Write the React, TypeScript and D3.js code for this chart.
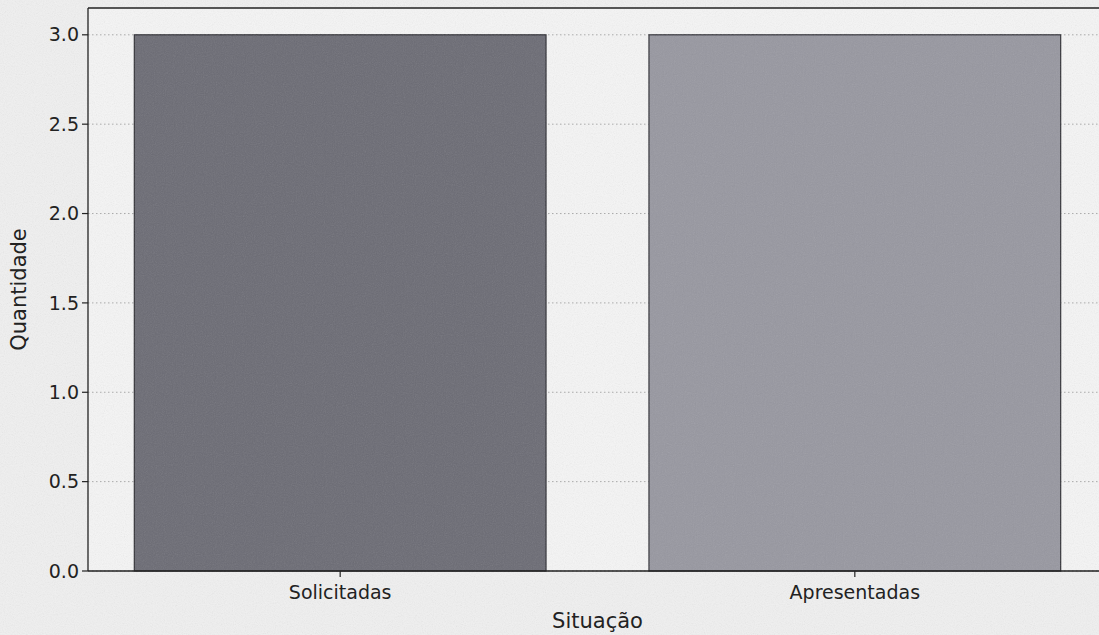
import React, { useEffect } from "react";
import * as d3 from "d3";

const categories = ["Solicitadas", "Apresentadas"];
const values = [3, 3];
const barColors = ["#6b6b74", "#9797a0"];
const yTicks = [0, 0.5, 1, 1.5, 2, 2.5, 3];

const W = 1099;
const H = 635;
const margin = { left: 88, right: -8, top: 8, bottom: 64 };

export default function App() {
  useEffect(() => {
    document.body.style.margin = "0";
  }, []);

  // matplotlib style bar layout: bars at 0,1 with width 0.8 and 5% margins
  const x = d3
    .scaleLinear()
    .domain([-0.49, 1.49])
    .range([margin.left, W - margin.right]);
  const y = d3
    .scaleLinear()
    .domain([0, 3.15])
    .range([H - margin.bottom, margin.top]);

  const font = "'DejaVu Sans', sans-serif";
  const x0 = margin.left;
  const x1 = W - margin.right;
  const y0 = H - margin.bottom;
  const y1 = margin.top;

  return (
    <svg width={W} height={H} style={{ display: "block" }} fontFamily={font}>
      <defs>
        <filter id="paper" x="0" y="0" width="100%" height="100%">
          <feTurbulence type="fractalNoise" baseFrequency="0.9" numOctaves="2" seed="3" />
          <feColorMatrix type="saturate" values="0" />
          <feComponentTransfer>
            <feFuncA type="linear" slope="0.16" />
          </feComponentTransfer>
        </filter>
      </defs>
      <rect width={W} height={H} fill="#f0f0f0" />
      <rect x={x0} y={y1} width={x1 - x0} height={y0 - y1} fill="#f5f5f5" />

      {/* grid */}
      {yTicks.map((t) => (
        <line
          key={"g" + t}
          x1={x0}
          x2={x1}
          y1={y(t)}
          y2={y(t)}
          stroke="#a9a9a9"
          strokeWidth={1}
          strokeDasharray="1.5,2.5"
        />
      ))}

      {/* bars */}
      {categories.map((c, i) => (
        <rect
          key={c}
          x={x(i - 0.4)}
          y={y(values[i])}
          width={x(i + 0.4) - x(i - 0.4)}
          height={y(0) - y(values[i])}
          fill={barColors[i]}
          stroke="#2e2e34"
          strokeWidth={1.2}
        />
      ))}

      {/* texture overlay */}
      <rect width={W} height={H} filter="url(#paper)" />

      {/* spines */}
      <line x1={x0} x2={x0} y1={y1} y2={y0} stroke="#222" strokeWidth={1.3} />
      <line x1={x0} x2={x1} y1={y0} y2={y0} stroke="#222" strokeWidth={1.3} />
      <line x1={x0} x2={x1} y1={y1} y2={y1} stroke="#222" strokeWidth={1.3} />

      {/* y ticks */}
      {yTicks.map((t) => (
        <g key={"t" + t}>
          <line x1={x0 - 6} x2={x0} y1={y(t)} y2={y(t)} stroke="#222" strokeWidth={1.2} />
          <text
            x={x0 - 9}
            y={y(t)}
            dy="0.35em"
            textAnchor="end"
            fontSize={19}
            fill="#222"
          >
            {d3.format(".1f")(t)}
          </text>
        </g>
      ))}

      {/* x ticks */}
      {categories.map((c, i) => (
        <g key={"x" + c}>
          <line x1={x(i)} x2={x(i)} y1={y0} y2={y0 + 6} stroke="#222" strokeWidth={1.2} />
          <text x={x(i)} y={y0 + 28} textAnchor="middle" fontSize={19} fill="#222">
            {c}
          </text>
        </g>
      ))}

      <text x={(x0 + 1107) / 2} y={628} textAnchor="middle" fontSize={21} fill="#222">
        Situação
      </text>
      <text
        transform={`translate(26, ${(y0 + y1) / 2}) rotate(-90)`}
        textAnchor="middle"
        fontSize={21}
        fill="#222"
      >
        Quantidade
      </text>
    </svg>
  );
}
